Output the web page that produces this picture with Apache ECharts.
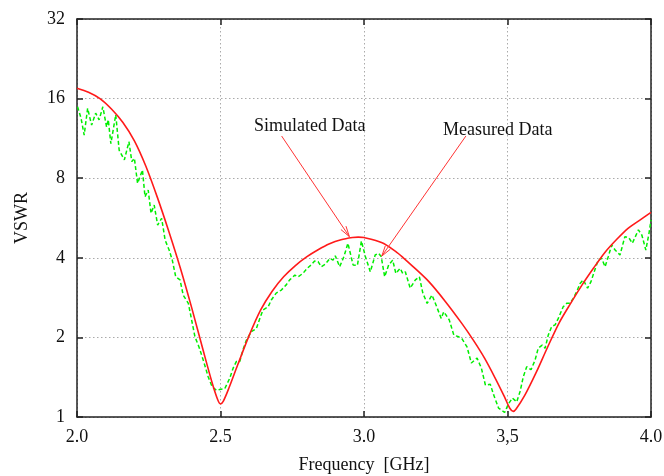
<!DOCTYPE html>
<html>
<head>
<meta charset="utf-8">
<script src="https://cdn.jsdelivr.net/npm/echarts@6/dist/echarts.min.js"></script>
<style>
html,body{margin:0;padding:0;background:#fff;}
#chart{width:664px;height:476px;}
</style>
</head>
<body>
<div id="chart"></div>
<script>
// Tick labels
const xTickLabels = ["2.0", "2.5", "3.0", "3,5", "4.0"];
const yTickValues = [1, 2, 4, 8, 16, 32];

// Simulated data (red)
const simFreq = [2.00, 2.04, 2.08, 2.12, 2.16, 2.20, 2.24, 2.28, 2.32, 2.36, 2.40, 2.44, 2.47, 2.49, 2.50,
  2.51, 2.53, 2.56, 2.60, 2.64, 2.68, 2.72, 2.76, 2.80, 2.84, 2.88, 2.92, 2.96, 2.98, 3.00,
  3.063, 3.110, 3.137, 3.168, 3.226, 3.284, 3.342, 3.382, 3.420, 3.457, 3.490, 3.508, 3.520,
  3.53, 3.56, 3.60, 3.64, 3.68, 3.72, 3.76, 3.80, 3.84, 3.88, 3.92, 3.96, 4.00];
const simVswr = [17.51, 16.91, 16.0, 14.62, 13.0, 11.08, 8.88, 6.77, 5.03, 3.66, 2.58, 1.78, 1.357, 1.165, 1.121,
  1.149, 1.292, 1.575, 2.035, 2.54, 2.99, 3.39, 3.73, 4.03, 4.29, 4.52, 4.68, 4.77, 4.79, 4.77,
  4.56, 4.23, 4.0, 3.73, 3.25, 2.73, 2.25, 1.945, 1.67, 1.404, 1.189, 1.079, 1.05,
  1.072, 1.206, 1.474, 1.84, 2.27, 2.69, 3.16, 3.66, 4.20, 4.69, 5.17, 5.54, 5.94];

// Measured data (green)
const measFreq = [2.002, 2.014, 2.025, 2.037, 2.051, 2.065, 2.077, 2.090, 2.103, 2.109, 2.118, 2.135,
  2.147, 2.165, 2.181, 2.191, 2.200, 2.211, 2.228, 2.237, 2.248, 2.258, 2.269, 2.281, 2.295, 2.307,
  2.321, 2.332, 2.344, 2.359, 2.370, 2.388, 2.397, 2.411, 2.425, 2.440, 2.457, 2.471, 2.487,
  2.497, 2.515, 2.532, 2.544, 2.555, 2.567, 2.578, 2.590, 2.607, 2.625, 2.637, 2.648, 2.666, 2.677,
  2.694, 2.712, 2.729, 2.741, 2.759, 2.770, 2.787, 2.802, 2.816, 2.828, 2.840, 2.851, 2.865, 2.881,
  2.892, 2.900, 2.915, 2.930, 2.944, 2.962, 2.977, 2.991,
  3.005, 3.022, 3.039, 3.051, 3.060, 3.072, 3.086, 3.100, 3.111, 3.126, 3.135, 3.144, 3.161, 3.179,
  3.193, 3.205, 3.220, 3.237, 3.251, 3.269, 3.278, 3.297, 3.313, 3.330, 3.341, 3.359, 3.374, 3.394,
  3.409, 3.423, 3.440, 3.452, 3.469, 3.490, 3.503,
  3.517, 3.532, 3.544, 3.555, 3.567, 3.582, 3.596, 3.607, 3.621, 3.631, 3.642, 3.654, 3.666, 3.677,
  3.694, 3.706, 3.718, 3.729, 3.741, 3.753, 3.764, 3.779, 3.791, 3.802, 3.816, 3.828, 3.840, 3.851,
  3.863, 3.875, 3.892, 3.909, 3.923, 3.935, 3.956, 3.968, 3.982, 3.993, 4.000];
const measVswr = [14.9, 13.5, 11.65, 14.7, 12.7, 14.1, 13.3, 14.9, 12.5, 13.3, 10.8, 13.9,
  10.2, 9.38, 11.0, 9.24, 9.51, 7.65, 8.59, 6.81, 7.22, 5.89, 6.33, 5.32, 5.64, 4.67,
  4.28, 3.92, 3.39, 3.30, 2.89, 2.69, 2.40, 2.01, 1.84, 1.64, 1.42, 1.30, 1.26,
  1.27, 1.28, 1.40, 1.53, 1.62, 1.62, 1.79, 1.95, 2.10, 2.16, 2.36, 2.54, 2.61, 2.77,
  2.94, 3.02, 3.16, 3.30, 3.44, 3.39, 3.49, 3.65, 3.76, 3.89, 3.87, 3.70, 3.78, 3.98,
  3.92, 4.07, 3.70, 4.04, 4.54, 3.76, 3.74, 4.63,
  4.04, 3.54, 4.10, 4.16, 4.04, 3.39, 3.76, 3.92, 3.49, 3.65, 3.49, 3.54, 3.07, 3.30,
  3.39, 2.94, 2.69, 2.89, 2.65, 2.36, 2.50, 2.33, 2.04, 2.01, 1.98, 1.84, 1.60, 1.67,
  1.53, 1.32, 1.33, 1.21, 1.08, 1.04, 1.12,
  1.18, 1.14, 1.25, 1.42, 1.55, 1.51, 1.64, 1.82, 1.87, 1.82, 2.04, 2.20, 2.23, 2.36,
  2.61, 2.69, 2.69, 2.81, 2.98, 3.20, 3.30, 3.07, 3.25, 3.54, 3.92, 3.98, 3.70, 4.04,
  4.47, 4.28, 4.10, 4.81, 4.76, 4.54, 5.10, 4.88, 4.28, 4.95, 5.56];

// Annotations: text, text anchor (freq, vswr), arrow start and end (freq, vswr)
const annotationTexts = ["Simulated Data", "Measured Data"];
const annotationTextAt = [[2.811, 12.55], [3.466, 12.15]];
const arrowFrom = [[2.713, 11.55], [3.355, 11.55]];
const arrowTo = [[2.949, 4.81], [3.062, 4.06]];

const FONT = '"Liberation Serif", "Times New Roman", serif';
const chart = echarts.init(document.getElementById('chart'), null, {renderer: 'canvas'});

const axisLineStyle = {color: '#222', width: 1.5};
const gridLine = {show: true, lineStyle: {color: '#aaa', type: [1.5, 2.5], width: 1}};

chart.setOption({
  backgroundColor: '#ffffff',
  animation: false,
  grid: {left: 77, right: 13, top: 19, bottom: 59, containLabel: false, outerBoundsMode: 'none'},
  xAxis: [{
    type: 'value', min: 2, max: 4, interval: 0.5, position: 'bottom',
    name: 'Frequency  [GHz]', nameLocation: 'middle', nameGap: 39,
    nameTextStyle: {fontFamily: FONT, fontSize: 18, color: '#111'},
    axisLine: {show: true, lineStyle: axisLineStyle},
    axisTick: {show: true, inside: true, length: 6, lineStyle: {color: '#222', width: 1.5}},
    axisLabel: {fontFamily: FONT, fontSize: 18, color: '#111', margin: 11,
      formatter: v => xTickLabels[Math.round((v - 2) / 0.5)]},
    splitLine: gridLine
  }, {
    type: 'value', min: 2, max: 4, interval: 0.5, position: 'top',
    axisLine: {show: true, onZero: false, lineStyle: axisLineStyle},
    axisTick: {show: true, inside: true, length: 6, lineStyle: {color: '#222', width: 1.5}},
    axisLabel: {show: false}, splitLine: {show: false}
  }],
  yAxis: [{
    type: 'log', logBase: 2, min: 1, max: 32, position: 'left',
    name: 'VSWR', nameLocation: 'middle', nameGap: 46, nameRotate: 90,
    nameTextStyle: {fontFamily: FONT, fontSize: 18, color: '#111'},
    axisLine: {show: true, lineStyle: axisLineStyle},
    axisTick: {show: true, inside: true, length: 6, lineStyle: {color: '#222', width: 1.5}},
    axisLabel: {fontFamily: FONT, fontSize: 18, color: '#111', margin: 12,
      formatter: v => String(yTickValues.find(t => Math.abs(t - v) < 1e-6) ?? Math.round(v))},
    splitLine: gridLine,
    minorTick: {show: false}
  }, {
    type: 'log', logBase: 2, min: 1, max: 32, position: 'right',
    axisLine: {show: true, onZero: false, lineStyle: axisLineStyle},
    axisTick: {show: true, inside: true, length: 6, lineStyle: {color: '#222', width: 1.5}},
    axisLabel: {show: false}, splitLine: {show: false}
  }],
  series: [{
    name: 'Measured Data', type: 'line', xAxisIndex: 0, yAxisIndex: 0,
    data: measFreq.map((f, i) => [f, measVswr[i]]),
    showSymbol: false, smooth: false,
    lineStyle: {color: '#00ee00', width: 1.5, type: [4, 2.5]}, z: 2
  }, {
    name: 'Simulated Data', type: 'line', xAxisIndex: 0, yAxisIndex: 0,
    data: simFreq.map((f, i) => [f, simVswr[i]]),
    showSymbol: false, smooth: 0.3,
    lineStyle: {color: '#ff1a1a', width: 1.6}, z: 3
  }]
});

function drawAnnotations() {
  const els = [];
  const px = p => chart.convertToPixel({xAxisIndex: 0, yAxisIndex: 0}, p);
  annotationTexts.forEach((t, i) => {
    const tp = px(annotationTextAt[i]);
    els.push({type: 'text', x: tp[0], y: tp[1], z: 10,
      style: {text: t, font: '18px ' + FONT, fill: '#111', align: 'center', verticalAlign: 'middle'}});
    const a = px(arrowFrom[i]), b = px(arrowTo[i]);
    const ang = Math.atan2(b[1] - a[1], b[0] - a[0]);
    const L = 11, spread = 0.28;
    const h1 = [b[0] - L * Math.cos(ang - spread), b[1] - L * Math.sin(ang - spread)];
    const h2 = [b[0] - L * Math.cos(ang + spread), b[1] - L * Math.sin(ang + spread)];
    els.push({type: 'line', z: 10, shape: {x1: a[0], y1: a[1], x2: b[0], y2: b[1]},
      style: {stroke: '#ff3333', lineWidth: 1}});
    els.push({type: 'polyline', z: 10, shape: {points: [h1, b, h2]},
      style: {stroke: '#ff3333', lineWidth: 1, fill: null}});
  });
  chart.setOption({graphic: els});
}
drawAnnotations();
</script>
</body>
</html>
